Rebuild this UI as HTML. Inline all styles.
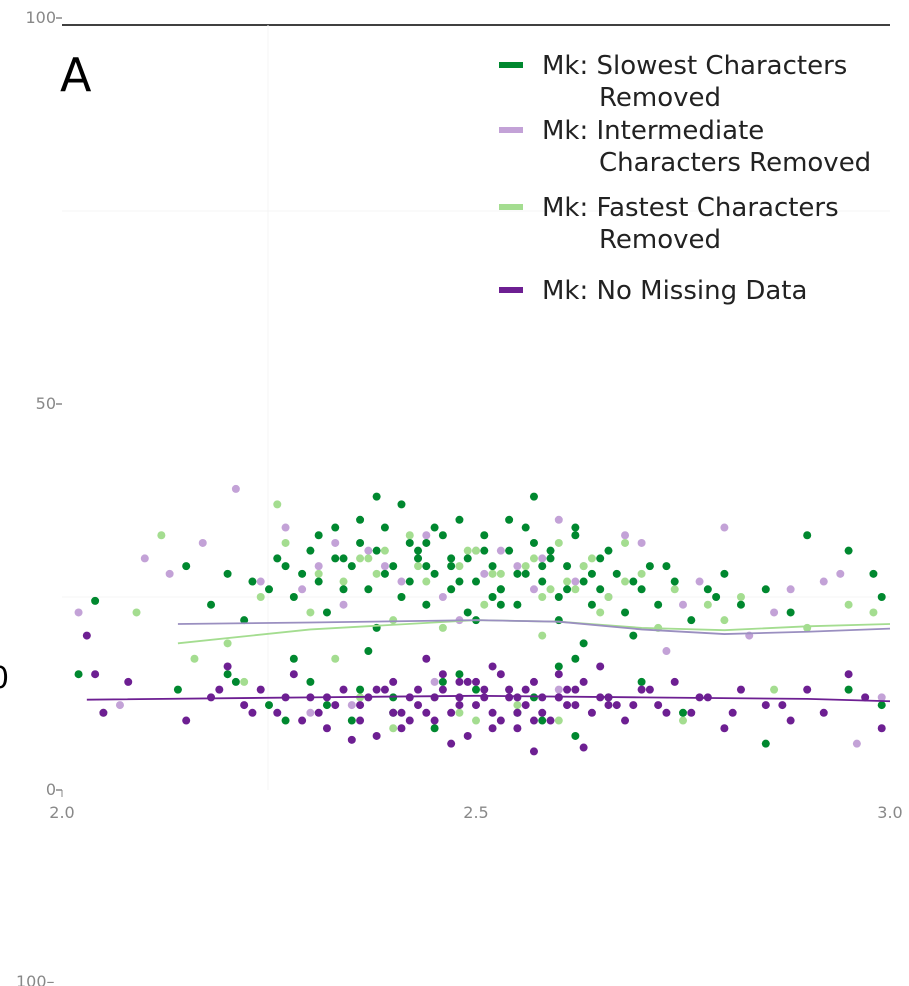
<!DOCTYPE html>
<html><head><meta charset="utf-8"><style>
html,body{margin:0;padding:0;background:#fff;width:909px;height:986px;overflow:hidden}
svg{display:block}
</style></head><body>
<svg id="chart" width="909" height="986" font-family="'DejaVu Sans','Liberation Sans',sans-serif">
<line x1="62" y1="25" x2="890" y2="25" stroke="#000" stroke-width="1.5"/>
<text x="60" y="91" font-size="46" fill="#000">A</text>
<g id="axes"></g>
<g id="marks"></g>
<g id="legend"></g>
<text x="16" y="987" font-size="16" fill="#888">100–</text>
<text x="-10" y="688" font-size="30" fill="#000">0</text>
</svg>
<script>
const xTicks=[2.0,2.5,3.0];
const xTickLabels=["2.0","2.5","3.0"];
const yTicks=[0,50,100];
const yTickLabels=["0","50","100"];
const slowX=[2.04,2.15,2.18,2.2,2.22,2.25,2.27,2.28,2.3,2.31,2.32,2.33,2.35,2.36,2.37,2.38,2.39,2.4,2.41,2.42,2.43,2.44,2.45,2.46,2.47,2.48,2.49,2.5,2.51,2.52,2.53,2.54,2.55,2.56,2.57,2.58,2.59,2.6,2.61,2.62,2.63,2.64,2.65,2.67,2.68,2.7,2.71,2.72,2.74,2.76,2.78,2.8,2.82,2.85,2.88,2.9,2.95,2.98,2.99,2.02,2.14,2.2,2.25,2.3,2.35,2.4,2.45,2.5,2.55,2.6,2.62,2.66,2.7,2.75,2.85,2.95,2.99,2.63,2.37,2.28,2.34,2.44,2.52,2.58,
2.29,2.31,2.33,2.34,2.36,2.38,2.39,2.41,2.42,2.44,2.45,2.47,2.48,2.49,2.51,2.53,2.54,2.56,2.57,2.59,2.61,2.62,2.64,2.66,2.69,2.73,2.79,2.26,2.23,2.47,2.55,2.6,2.38,2.43,2.5,2.53,2.65,2.69,2.57,2.4,2.46,2.36,2.32,2.27,2.21,2.48,2.58,2.62];
const slowY=[24.5,29,24,28,22,26,29,25,31,27,23,34,29,32,26,38,34,29,37,27,31,24,28,33,26,35,30,27,33,29,24,31,28,34,38,27,31,25,29,33,27,24,30,28,23,26,29,24,27,22,26,28,24,26,23,33,31,28,25,15,13,15,11,14,9,12,8,13,10,16,7,12,14,10,6,13,11,19,18,17,30,32,25,29,
28,33,30,26,35,31,28,25,32,29,34,30,27,23,31,26,35,28,32,30,26,34,28,31,27,29,25,30,27,29,24,22,21,30,22,26,26,20,12,10,14,13,11,9,14,15,9,17];
const interX=[2.02,2.07,2.1,2.13,2.17,2.21,2.24,2.27,2.31,2.34,2.37,2.41,2.44,2.48,2.51,2.53,2.57,2.6,2.63,2.66,2.7,2.73,2.77,2.8,2.83,2.88,2.92,2.96,2.99,2.3,2.6,
2.26,2.29,2.33,2.39,2.43,2.46,2.5,2.55,2.58,2.62,2.68,2.75,2.86,2.94,2.35,2.45];
const interY=[23,11,30,28,32,39,27,34,29,24,31,27,33,22,28,31,26,35,29,25,32,18,27,34,20,26,27,6,12,10,13,
30,26,32,29,30,25,31,29,30,27,33,24,23,28,11,14];
const fastX=[2.05,2.09,2.12,2.16,2.2,2.24,2.26,2.3,2.33,2.36,2.38,2.4,2.42,2.44,2.46,2.48,2.5,2.52,2.54,2.56,2.58,2.6,2.62,2.65,2.68,2.72,2.75,2.78,2.82,2.86,2.9,2.95,2.98,2.45,2.5,2.4,2.55,
2.34,2.37,2.41,2.43,2.47,2.49,2.51,2.53,2.57,2.59,2.61,2.63,2.66,2.7,2.74,2.8,2.27,2.31,2.39,2.44,2.52,2.58,2.64,2.68,2.22,2.48,2.36,2.6];
const fastY=[10,23,33,17,19,25,37,23,17,30,28,22,33,27,21,29,31,25,13,29,20,32,26,23,32,21,9,24,25,13,21,24,23,12,9,8,11,
27,30,25,29,26,31,24,28,30,26,27,29,25,28,26,22,32,28,31,24,28,25,30,27,14,10,12,9];
const noneX=[2.03,2.04,2.05,2.08,2.15,2.18,2.2,2.22,2.24,2.26,2.28,2.3,2.32,2.34,2.36,2.38,2.4,2.41,2.42,2.44,2.45,2.46,2.48,2.49,2.5,2.51,2.52,2.53,2.54,2.55,2.56,2.57,2.58,2.59,2.6,2.61,2.62,2.64,2.65,2.66,2.68,2.7,2.72,2.74,2.76,2.78,2.8,2.82,2.85,2.88,2.9,2.92,2.95,2.97,2.99,2.47,2.57,2.63,2.35,2.42,2.52,2.46,2.6,2.43,2.39,2.55,2.67,2.31,2.48,
2.19,2.23,2.27,2.29,2.33,2.37,2.4,2.43,2.45,2.47,2.49,2.5,2.51,2.53,2.54,2.56,2.58,2.6,2.62,2.63,2.65,2.69,2.71,2.73,2.77,2.81,2.87,2.44,2.52,2.57,2.36,2.41,2.48,2.55,2.61,2.66,2.32,2.38];
const noneY=[20,15,10,14,9,12,16,11,13,10,15,12,8,13,11,7,14,10,12,17,9,13,11,7,14,12,10,15,13,8,11,14,12,9,15,11,13,10,16,12,9,13,11,14,10,12,8,13,11,9,13,10,15,12,8,6,5,5.5,6.5,9,16,15,12,11,13,12,11,10,14,
13,10,12,9,11,12,10,13,12,10,14,11,13,9,12,13,10,12,11,14,12,11,13,10,12,10,11,10,8,9,9,8,12,10,13,11,12,13];
const trendX=[2.14,2.3,2.5,2.6,2.7,2.8,2.9,3.0];
const slowTrend=[21.5,21.7,22,21.8,20.8,20.2,20.5,20.9];
const fastTrend=[19,20.8,22,21.8,21,20.7,21.2,21.5];
const noneTrendX=[2.03,2.3,2.5,2.7,2.9,3.0];
const noneTrend=[11.7,12,12.2,12,11.8,11.5];

const NS="http://www.w3.org/2000/svg";
const sx=v=>62+(v-2)*828;
const sy=v=>790-v*7.72;
function mk(tag,attrs,parent){const e=document.createElementNS(NS,tag);for(const k in attrs)e.setAttribute(k,attrs[k]);parent.appendChild(e);return e;}
const axes=document.getElementById('axes');
const marks=document.getElementById('marks');
mk('line',{x1:268,y1:25,x2:268,y2:790,stroke:'#f4f4f4'},axes);
mk('line',{x1:62,y1:sy(25),x2:890,y2:sy(25),stroke:'#f4f4f4'},axes);
mk('line',{x1:62,y1:sy(75),x2:890,y2:sy(75),stroke:'#f4f4f4'},axes);
yTicks.forEach((v,i)=>{
 const t=mk('text',{x:56,y:sy(v)+5,'font-size':16,fill:'#888','text-anchor':'end'},axes);t.textContent=yTickLabels[i];
 
 
 const l=mk('line',{x1:56,y1:sy(v),x2:62,y2:sy(v),stroke:'#888','stroke-width':1.5},axes);
 
 
});
xTicks.forEach((v,i)=>{
 const t=mk('text',{x:sx(v),y:818,'font-size':16,fill:'#888','text-anchor':'middle'},axes);t.textContent=xTickLabels[i];
 
 
});
mk('line',{x1:62,y1:790,x2:62,y2:797,stroke:'#888'},axes);
function dots(xs,ys,color,name){xs.forEach((x,i)=>{const c=mk('circle',{cx:sx(x),cy:sy(ys[i]),r:4,fill:color},marks);
 
 });}
dots(interX,interY,'#c3a2d7','point-intermediate');
dots(fastX,fastY,'#a4dd90','point-fastest');
dots(slowX,slowY,'#00882f','point-slowest');
dots(noneX,noneY,'#6d1f92','point-no-missing');
function line(xs,ys,color,name){const p=mk('polyline',{points:xs.map((x,i)=>sx(x)+','+sy(ys[i])).join(' '),fill:'none',stroke:color,'stroke-width':1.8},marks);
 
 }
line(trendX,fastTrend,'#a4dd90','trend-fastest');
line(trendX,slowTrend,'#9a8fc0','trend-slowest');
line(noneTrendX,noneTrend,'#6d1f92','trend-no-missing');
const lg=document.getElementById('legend');
const entries=[[65,'#00882f',['Mk: Slowest Characters','Removed'],'legend-slowest'],[130,'#c3a2d7',['Mk: Intermediate','Characters Removed'],'legend-intermediate'],[207,'#a4dd90',['Mk: Fastest Characters','Removed'],'legend-fastest'],[290,'#6d1f92',['Mk: No Missing Data'],'legend-no-missing']];
entries.forEach(e=>{
 const g=mk('g',{},lg);
 
 
 mk('rect',{x:499,y:e[0]-3,width:24,height:6,fill:e[1]},g);
 const t1=mk('text',{x:542,y:e[0]+9,'font-size':26,fill:'#222'},g);t1.textContent=e[2][0];
 if(e[2][1]){const t2=mk('text',{x:599,y:e[0]+41,'font-size':26,fill:'#222'},g);t2.textContent=e[2][1];}
});
</script>
</body></html>
